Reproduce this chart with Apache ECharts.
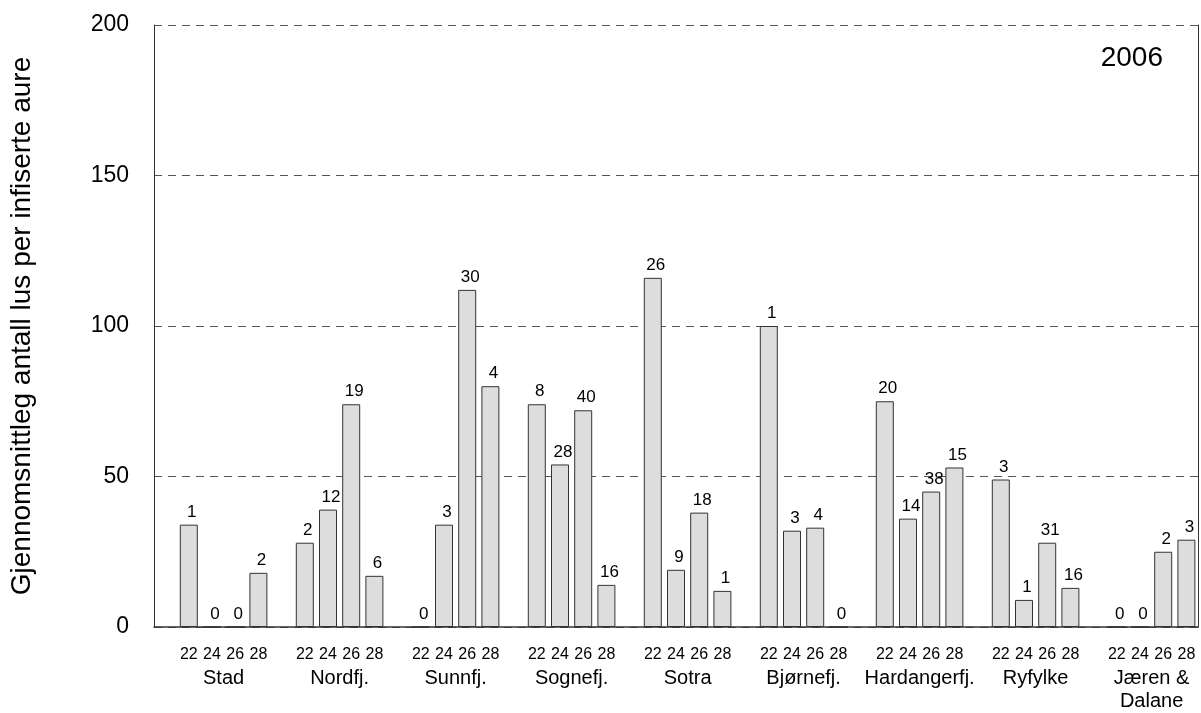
<!DOCTYPE html>
<html>
<head>
<meta charset="utf-8">
<script src="https://cdn.jsdelivr.net/npm/echarts@6/dist/echarts.min.js"></script>
<style>
  html, body { margin: 0; padding: 0; background: #fff; }
  #chart { width: 1201px; height: 713px; }
</style>
</head>
<body>
<div id="chart"></div>
<script>
// regions (groups) and sampling weeks
const regions = ['Stad', 'Nordfj.', 'Sunnfj.', 'Sognefj.', 'Sotra', 'Bjørnefj.', 'Hardangerfj.', 'Ryfylke', 'Jæren &\nDalane'];
const weeks = ['22', '24', '26', '28'];

// mean lice per infected trout, one row per region (weeks 22,24,26,28)
const meanLice = [
  [34, 0, 0, 18],
  [28, 39, 74, 17],
  [0, 34, 112, 80],
  [74, 54, 72, 14],
  [116, 19, 38, 12],
  [100, 32, 33, 0],
  [75, 36, 45, 53],
  [49, 9, 28, 13],
  [0, 0, 25, 29]
];

// number of infected fish, printed above each bar
const fishCount = [
  [1, 0, 0, 2],
  [2, 12, 19, 6],
  [0, 3, 30, 4],
  [8, 28, 40, 16],
  [26, 9, 18, 1],
  [1, 3, 4, 0],
  [20, 14, 38, 15],
  [3, 1, 31, 16],
  [0, 0, 2, 3]
];

const yTicks = [0, 50, 100, 150, 200];
const yearText = '2006';
const yName = 'Gjennomsnittleg antall lus per infiserte aure';

// category list: one empty slot in front, one empty slot between groups
const categories = [''];
const barData = ['-'];
const barLabels = [''];
regions.forEach((r, g) => {
  weeks.forEach((w, k) => {
    categories.push(w);
    barData.push(meanLice[g][k]);
    barLabels.push(String(fishCount[g][k]));
  });
  if (g < regions.length - 1) {
    categories.push('');
    barData.push('-');
    barLabels.push('');
  }
});

const font = 'Liberation Sans, Arial, sans-serif';
const chart = echarts.init(document.getElementById('chart'));

const option = {
  animation: false,
  backgroundColor: '#fff',
  title: {
    text: yearText,
    right: 33,
    top: 39,
    textStyle: { fontFamily: font, fontSize: 28, fontWeight: 'normal', color: '#000' }
  },
  grid: { left: 148, right: 2, top: 25, bottom: 85 },
  xAxis: [
    {
      type: 'category',
      data: categories,
      axisLine: { show: true, lineStyle: { color: '#333', width: 1.5 } },
      axisTick: { show: false },
      axisLabel: { interval: 0, margin: 20, fontFamily: font, fontSize: 16, color: '#000' }
    },
    {
      // second row of labels: region names centred under each group
      type: 'value',
      position: 'bottom',
      min: 0,
      max: categories.length,
      interval: 1,
      axisLine: { show: false },
      axisTick: { show: false },
      splitLine: { show: false },
      axisLabel: {
        margin: 40,
        fontFamily: font,
        fontSize: 20,
        lineHeight: 23,
        color: '#000',
        showMinLabel: true,
        showMaxLabel: true,
        formatter: function (v) {
          const g = (v - 3) / 5;
          return Number.isInteger(g) && g >= 0 && g < regions.length ? regions[g] : '';
        }
      }
    }
  ],
  yAxis: [
    {
      type: 'value',
      min: yTicks[0],
      max: yTicks[yTicks.length - 1],
      interval: yTicks[1] - yTicks[0],
      name: yName,
      nameLocation: 'middle',
      nameGap: 118,
      nameTextStyle: { fontFamily: font, fontSize: 28, color: '#000' },
      axisLine: { show: true, lineStyle: { color: '#333', width: 1 } },
      axisTick: { show: false },
      axisLabel: { margin: 25, fontFamily: font, fontSize: 23, color: '#000' },
      splitLine: { show: true, lineStyle: { color: '#555', type: [8, 6], width: 1 } }
    },
    {
      type: 'value',
      position: 'right',
      min: yTicks[0],
      max: yTicks[yTicks.length - 1],
      interval: yTicks[1] - yTicks[0],
      axisLine: { show: true, lineStyle: { color: '#333', width: 1 } },
      axisTick: { show: false },
      axisLabel: { show: false },
      splitLine: { show: false }
    }
  ],
  series: [
    {
      type: 'bar',
      data: barData,
      barWidth: 18,
      itemStyle: { color: '#dddddd', borderColor: '#333', borderWidth: 1 },
      label: {
        show: true,
        position: 'top',
        distance: 4,
        offset: [3, 0],
        fontFamily: font,
        fontSize: 17,
        color: '#000',
        formatter: function (p) { return barLabels[p.dataIndex]; }
      }
    }
  ]
};

option && chart.setOption(option);
</script>
</body>
</html>
